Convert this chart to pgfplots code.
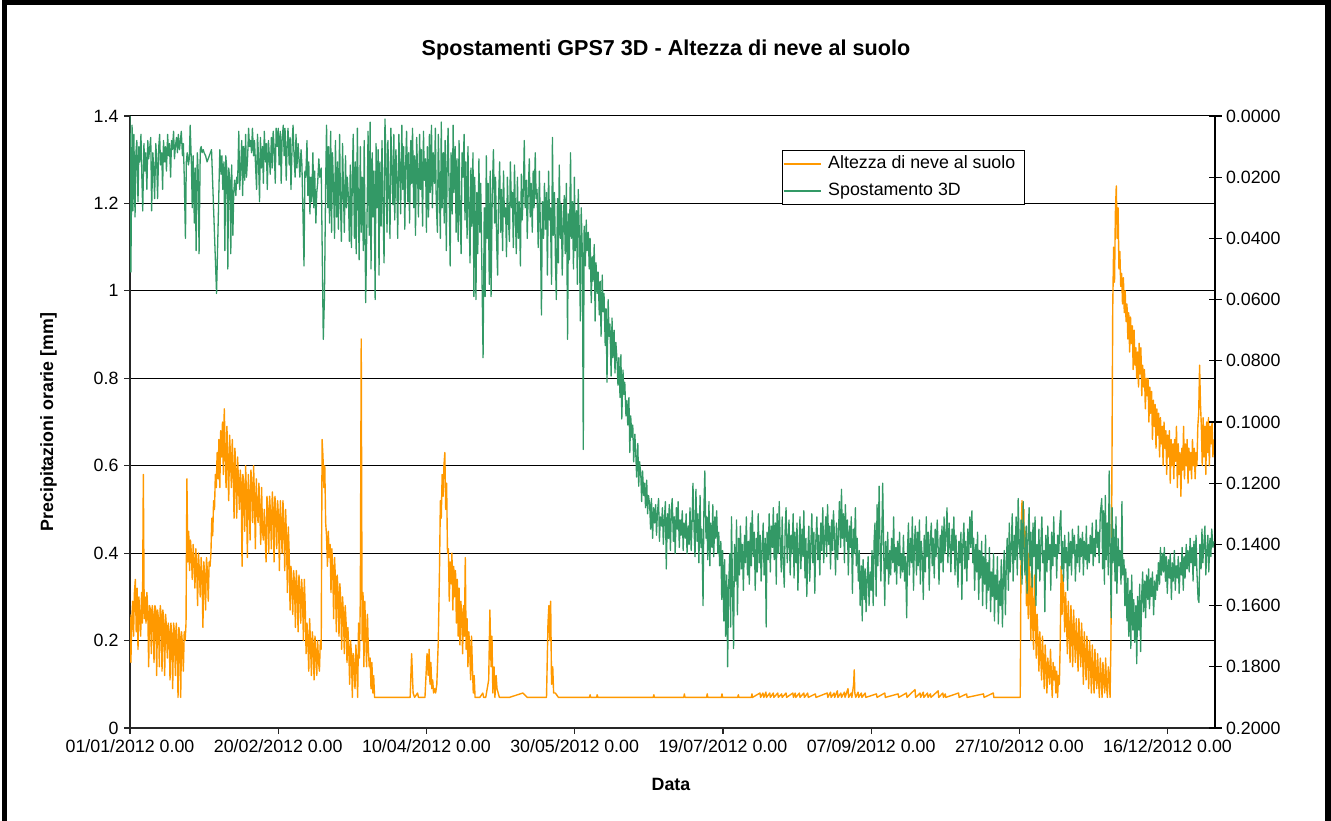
\documentclass[border=0pt]{standalone}
\usepackage{fontspec}
\setmainfont{Liberation Sans}
\usepackage{pgfplots}
\pgfplotsset{compat=1.18}
\definecolor{snoworange}{HTML}{FF9900}
\definecolor{gpsgreen}{HTML}{339966}
\newcommand\tickfont{\fontsize{17.8}{21}\selectfont}
\newcommand\labfont{\fontsize{17.8}{21}\selectfont\bfseries}
\newcommand\titfont{\fontsize{21.6}{25}\selectfont\bfseries}
\begin{document}
\begin{tikzpicture}
\useasboundingbox (0pt,0pt) rectangle (1331pt,821pt);
\begin{axis}[
  scale only axis, width=1085pt, height=612pt,
  at={(130pt,93pt)}, anchor=south west,
  xmin=0, xmax=366, ymin=0, ymax=1.4,
  axis x line*=bottom, axis y line*=left,
  axis line style={-, black!85, line width=1.5pt},
  xtick={0,50,100,150,200,250,300,350},
  xticklabels={01/01/2012 0.00,20/02/2012 0.00,10/04/2012 0.00,30/05/2012 0.00,19/07/2012 0.00,07/09/2012 0.00,27/10/2012 0.00,16/12/2012 0.00},
  ytick={0,0.2,0.4,0.6,0.8,1,1.2,1.4},
  tick align=outside, major tick length=6pt,
  tick style={black!85, line width=1.2pt},
  ymajorgrids, major grid style={black, line width=1pt},
  ticklabel style={font=\tickfont},
  /pgf/number format/assume math mode=true,
  xticklabel style={yshift=-2pt},
  yticklabel style={xshift=-2pt},
]
\addplot[snoworange, line width=1.4pt, line join=round] coordinates {
(0.0,0.26)(0.3,0.15)(0.6,0.25)(0.9,0.29)(1.2,0.21)(1.5,0.31)(1.8,0.34)(2.1,0.22)(2.4,0.32)(2.7,0.18)
(3.0,0.30)(3.3,0.26)(3.6,0.21)(3.9,0.31)(4.2,0.24)(4.5,0.58)(4.8,0.25)(5.1,0.30)(5.4,0.24)(5.7,0.31)
(6.0,0.27)(6.3,0.14)(6.6,0.28)(6.9,0.27)(7.2,0.17)(7.5,0.28)(7.8,0.26)(8.1,0.15)(8.4,0.28)(8.7,0.27)
(9.0,0.12)(9.3,0.27)(9.6,0.25)(9.9,0.14)(10.2,0.28)(10.5,0.26)(10.8,0.13)(11.1,0.27)(11.4,0.24)(11.7,0.12)
(12.0,0.26)(12.3,0.23)(12.6,0.16)(12.9,0.24)(13.2,0.22)(13.5,0.11)(13.8,0.24)(14.1,0.21)(14.4,0.09)(14.7,0.24)
(15.0,0.22)(15.3,0.12)(15.6,0.24)(15.9,0.20)(16.2,0.07)(16.5,0.23)(16.8,0.21)(17.1,0.07)(17.4,0.22)(17.7,0.19)
(18.0,0.13)(18.3,0.22)(18.6,0.20)(18.9,0.24)(19.2,0.57)(19.5,0.38)(19.8,0.45)(20.1,0.36)(20.4,0.43)(20.7,0.40)
(21.0,0.34)(21.3,0.42)(21.6,0.38)(21.9,0.32)(22.2,0.41)(22.5,0.37)(22.8,0.28)(23.1,0.40)(23.4,0.36)(23.7,0.30)
(24.0,0.39)(24.3,0.35)(24.6,0.23)(24.9,0.38)(25.2,0.35)(25.5,0.27)(25.8,0.39)(26.1,0.36)(26.4,0.29)(26.7,0.38)
(27.0,0.37)(27.3,0.40)(27.6,0.48)(27.9,0.44)(28.2,0.52)(28.5,0.50)(28.8,0.58)(29.1,0.55)(29.4,0.63)(29.7,0.57)
(30.0,0.66)(30.3,0.55)(30.6,0.68)(30.9,0.62)(31.2,0.70)(31.5,0.58)(31.8,0.73)(32.1,0.64)(32.4,0.55)(32.7,0.69)
(33.0,0.60)(33.3,0.52)(33.6,0.67)(33.9,0.62)(34.2,0.55)(34.5,0.66)(34.8,0.60)(35.1,0.48)(35.4,0.64)(35.7,0.58)
(36.0,0.48)(36.3,0.62)(36.6,0.56)(36.9,0.50)(37.2,0.59)(37.5,0.56)(37.8,0.37)(38.1,0.58)(38.4,0.55)(38.7,0.45)
(39.0,0.60)(39.3,0.53)(39.6,0.39)(39.9,0.58)(40.2,0.54)(40.5,0.43)(40.8,0.59)(41.1,0.55)(41.4,0.47)(41.7,0.60)
(42.0,0.52)(42.3,0.41)(42.6,0.57)(42.9,0.50)(43.2,0.47)(43.5,0.56)(43.8,0.49)(44.1,0.42)(44.4,0.55)(44.7,0.45)
(45.0,0.43)(45.3,0.50)(45.6,0.44)(45.9,0.38)(46.2,0.53)(46.5,0.50)(46.8,0.40)(47.1,0.53)(47.4,0.49)(47.7,0.41)
(48.0,0.54)(48.3,0.50)(48.6,0.38)(48.9,0.53)(49.2,0.49)(49.5,0.41)(49.8,0.52)(50.1,0.48)(50.4,0.36)(50.7,0.52)
(51.0,0.47)(51.3,0.40)(51.6,0.52)(51.9,0.46)(52.2,0.36)(52.5,0.50)(52.8,0.43)(53.1,0.31)(53.4,0.46)(53.7,0.40)
(54.0,0.27)(54.3,0.37)(54.6,0.33)(54.9,0.26)(55.2,0.36)(55.5,0.33)(55.8,0.23)(56.1,0.36)(56.4,0.32)(56.7,0.22)
(57.0,0.35)(57.3,0.31)(57.6,0.24)(57.9,0.34)(58.2,0.30)(58.5,0.20)(58.8,0.34)(59.1,0.28)(59.4,0.17)(59.7,0.24)
(60.0,0.20)(60.3,0.13)(60.6,0.25)(60.9,0.19)(61.2,0.12)(61.5,0.22)(61.8,0.19)(62.1,0.11)(62.4,0.21)(62.7,0.17)
(63.0,0.12)(63.3,0.20)(63.6,0.15)(63.9,0.13)(64.2,0.20)(64.5,0.18)(64.8,0.66)(65.1,0.62)(65.4,0.55)(65.7,0.60)
(66.0,0.47)(66.3,0.44)(66.6,0.37)(66.9,0.45)(67.2,0.39)(67.5,0.42)(67.8,0.31)(68.1,0.41)(68.4,0.36)(68.7,0.25)
(69.0,0.39)(69.3,0.34)(69.6,0.22)(69.9,0.35)(70.2,0.31)(70.5,0.21)(70.8,0.33)(71.1,0.29)(71.4,0.18)(71.7,0.30)
(72.0,0.26)(72.3,0.17)(72.6,0.28)(72.9,0.24)(73.2,0.15)(73.5,0.23)(73.8,0.18)(74.1,0.10)(74.4,0.20)(74.7,0.17)
(75.0,0.07)(75.3,0.17)(75.6,0.14)(75.9,0.09)(76.2,0.19)(76.5,0.14)(76.8,0.07)(77.1,0.24)(77.4,0.16)(77.7,0.30)
(78.0,0.89)(78.3,0.20)(78.6,0.31)(78.9,0.14)(79.2,0.29)(79.5,0.22)(79.8,0.14)(80.1,0.26)(80.4,0.18)(80.7,0.14)
(81.0,0.16)(81.3,0.09)(81.6,0.15)(81.9,0.08)(82.2,0.12)(82.5,0.07)(88.0,0.07)(94.5,0.07)(95.0,0.17)(95.5,0.08)
(96.0,0.07)(97.0,0.08)(97.3,0.07)(99.5,0.07)(100.2,0.17)(100.6,0.12)(100.9,0.18)(101.2,0.10)(101.5,0.15)(101.8,0.09)
(102.1,0.11)(102.4,0.08)(102.8,0.09)(103.1,0.08)(103.5,0.10)(104.0,0.20)(104.4,0.36)(104.7,0.52)(105.0,0.48)(105.3,0.58)
(105.6,0.53)(105.9,0.60)(106.2,0.63)(106.5,0.50)(106.8,0.56)(107.1,0.40)(107.4,0.41)(107.7,0.29)(108.0,0.38)(108.3,0.33)
(108.6,0.40)(108.9,0.27)(109.2,0.37)(109.5,0.30)(109.8,0.36)(110.1,0.24)(110.4,0.34)(110.7,0.21)(111.0,0.32)(111.3,0.19)
(111.6,0.29)(111.9,0.26)(112.2,0.17)(112.5,0.28)(112.8,0.21)(113.1,0.39)(113.4,0.18)(113.7,0.25)(114.0,0.14)(114.3,0.22)
(114.6,0.18)(114.9,0.11)(115.2,0.21)(115.5,0.14)(115.8,0.08)(116.1,0.12)(116.4,0.07)(118.0,0.07)(119.0,0.08)(119.3,0.07)
(120.0,0.07)(121.0,0.11)(121.4,0.27)(121.8,0.14)(122.1,0.21)(122.4,0.08)(122.8,0.14)(123.1,0.07)(123.5,0.12)(123.8,0.09)
(124.2,0.08)(124.6,0.07)(128.0,0.07)(132.5,0.08)(134.0,0.07)(140.5,0.07)(141.0,0.24)(141.3,0.28)(141.6,0.20)(141.9,0.29)
(142.2,0.10)(142.6,0.14)(142.9,0.08)(143.5,0.08)(144.5,0.07)(150.0,0.07)(155.0,0.07)(155.2,0.076)(155.4,0.07)(157.4,0.07)
(157.6,0.076)(157.8,0.07)(165.0,0.07)(176.5,0.07)(176.7,0.076)(176.9,0.07)(186.8,0.07)(187.0,0.078)(187.2,0.07)(194.5,0.07)
(194.7,0.078)(194.9,0.07)(199.5,0.07)(199.7,0.078)(199.9,0.07)(205.0,0.07)(205.2,0.076)(205.4,0.07)(209.6,0.07)(209.8,0.078)
(210.0,0.07)(212.5,0.08)(212.7,0.07)(213.5,0.08)(213.8,0.07)(214.5,0.082)(214.7,0.07)(215.8,0.08)(216.0,0.07)(217.0,0.08)
(217.2,0.07)(218.5,0.08)(218.7,0.07)(219.8,0.078)(220.0,0.07)(221.3,0.08)(221.5,0.07)(223.6,0.08)(223.8,0.07)(224.4,0.08)
(224.6,0.07)(225.8,0.08)(226.0,0.07)(227.3,0.08)(227.5,0.07)(228.6,0.08)(228.8,0.07)(231.2,0.078)(231.4,0.07)(235.2,0.08)
(235.4,0.07)(236.3,0.082)(236.5,0.07)(237.5,0.08)(237.7,0.07)(238.6,0.085)(238.8,0.07)(239.8,0.08)(240.0,0.07)(241.0,0.082)
(241.2,0.07)(242.2,0.09)(242.4,0.07)(243.3,0.08)(243.5,0.07)(244.1,0.10)(244.3,0.133)(244.5,0.08)(244.8,0.07)(245.6,0.082)
(245.8,0.07)(246.7,0.08)(246.9,0.07)(248.0,0.08)(248.2,0.07)(251.8,0.078)(252.0,0.07)(254.6,0.08)(254.8,0.07)(259.1,0.078)
(259.3,0.07)(261.9,0.08)(262.1,0.07)(264.8,0.088)(265.0,0.07)(266.5,0.08)(266.7,0.07)(267.6,0.082)(267.8,0.07)(269.0,0.08)
(269.2,0.07)(270.0,0.078)(270.2,0.07)(272.6,0.085)(272.8,0.07)(274.2,0.08)(274.4,0.07)(275.0,0.078)(275.2,0.07)(279.5,0.08)
(279.7,0.07)(282.2,0.078)(282.4,0.07)(287.9,0.078)(288.1,0.07)(291.2,0.08)(291.4,0.07)(300.3,0.07)(300.6,0.45)(300.9,0.52)
(301.2,0.43)(301.5,0.50)(301.8,0.36)(302.1,0.45)(302.4,0.28)(302.7,0.42)(303.0,0.25)(303.3,0.40)(303.6,0.30)(303.9,0.20)
(304.2,0.38)(304.5,0.24)(304.8,0.18)(305.1,0.35)(305.4,0.26)(305.7,0.16)(306.0,0.26)(306.3,0.20)(306.6,0.13)(306.9,0.22)
(307.2,0.17)(307.5,0.11)(307.8,0.21)(308.1,0.15)(308.4,0.09)(308.7,0.19)(309.0,0.14)(309.3,0.08)(309.6,0.16)(309.9,0.13)
(310.2,0.10)(310.5,0.18)(310.8,0.12)(311.1,0.07)(311.4,0.15)(311.7,0.11)(312.0,0.14)(312.3,0.08)(312.6,0.13)(312.9,0.07)
(313.2,0.12)(313.5,0.10)(313.8,0.20)(314.1,0.37)(314.4,0.26)(314.7,0.35)(315.0,0.30)(315.3,0.22)(315.6,0.31)(315.9,0.25)
(316.2,0.17)(316.5,0.29)(316.8,0.23)(317.1,0.15)(317.4,0.28)(317.7,0.22)(318.0,0.14)(318.3,0.27)(318.6,0.21)(318.9,0.15)
(319.2,0.25)(319.5,0.20)(319.8,0.13)(320.1,0.25)(320.4,0.19)(320.7,0.14)(321.0,0.24)(321.3,0.18)(321.6,0.10)(321.9,0.22)
(322.2,0.17)(322.5,0.11)(322.8,0.21)(323.1,0.16)(323.4,0.09)(323.7,0.20)(324.0,0.15)(324.3,0.08)(324.6,0.19)(324.9,0.13)
(325.2,0.08)(325.5,0.18)(325.8,0.12)(326.1,0.09)(326.4,0.17)(326.7,0.11)(327.0,0.07)(327.3,0.16)(327.6,0.12)(327.9,0.07)
(328.2,0.15)(328.5,0.11)(328.8,0.08)(329.1,0.16)(329.4,0.10)(329.7,0.07)(330.0,0.14)(330.3,0.12)(330.6,0.07)(330.9,0.20)
(331.2,0.55)(331.5,0.96)(331.8,1.10)(332.1,1.02)(332.4,1.18)(332.7,1.24)(333.0,1.12)(333.3,1.19)(333.6,1.05)(333.9,1.09)
(334.2,1.01)(334.5,1.04)(334.8,0.97)(335.1,1.03)(335.4,0.95)(335.7,1.00)(336.0,0.93)(336.3,0.97)(336.6,0.89)(336.9,0.95)
(337.2,0.86)(337.5,0.94)(337.8,0.88)(338.1,0.92)(338.4,0.82)(338.7,0.91)(339.0,0.83)(339.3,0.87)(339.6,0.80)(339.9,0.86)
(340.2,0.78)(340.4,0.88)(340.7,0.81)(341.0,0.87)(341.3,0.76)(341.6,0.83)(341.9,0.78)(342.2,0.82)(342.5,0.73)(342.8,0.80)
(343.1,0.76)(343.4,0.80)(343.7,0.70)(344.0,0.78)(344.3,0.72)(344.6,0.77)(344.9,0.66)(345.2,0.75)(345.5,0.69)(345.8,0.74)
(346.1,0.64)(346.4,0.73)(346.7,0.67)(347.0,0.72)(347.3,0.62)(347.6,0.71)(347.9,0.65)(348.2,0.69)(348.5,0.60)(348.8,0.70)
(349.1,0.64)(349.4,0.68)(349.7,0.58)(350.0,0.67)(350.3,0.62)(350.6,0.68)(350.9,0.56)(351.2,0.66)(351.5,0.60)(351.8,0.65)
(352.1,0.57)(352.4,0.66)(352.7,0.61)(353.0,0.69)(353.3,0.55)(353.6,0.65)(353.9,0.58)(354.2,0.63)(354.5,0.53)(354.8,0.64)
(355.1,0.59)(355.4,0.69)(355.7,0.57)(356.0,0.65)(356.3,0.60)(356.6,0.66)(356.9,0.56)(357.2,0.64)(357.5,0.59)(357.8,0.63)
(358.1,0.57)(358.4,0.66)(358.7,0.60)(359.0,0.64)(359.3,0.57)(359.6,0.63)(359.9,0.60)(360.2,0.69)(360.5,0.72)(360.8,0.83)
(361.1,0.74)(361.4,0.69)(361.7,0.60)(362.0,0.71)(362.3,0.62)(362.6,0.69)(362.9,0.58)(363.2,0.70)(363.5,0.63)(363.8,0.71)
(364.1,0.60)(364.4,0.69)(364.7,0.65)(365.0,0.70)(365.3,0.62)(365.6,0.66)
};
\end{axis}
\begin{axis}[
  scale only axis, width=1085pt, height=612pt,
  at={(130pt,93pt)}, anchor=south west,
  xmin=0, xmax=366, ymin=0, ymax=0.2, y dir=reverse,
  axis x line=none, axis y line*=right,
  axis line style={-, black, line width=1.5pt},
  ytick={0,0.02,0.04,0.06,0.08,0.1,0.12,0.14,0.16,0.18,0.2},
  tick align=center, major tick length=13pt,
  tick style={black, line width=1.2pt},
  ticklabel style={font=\tickfont},
  /pgf/number format/assume math mode=true,
  yticklabel style={/pgf/number format/fixed, /pgf/number format/fixed zerofill, /pgf/number format/precision=4, xshift=1pt},
  legend cell align=left,
  legend style={at={(0.601,0.944)}, anchor=north west, draw=black, line width=1pt, fill=white,
    inner sep=0pt, row sep=0pt, column sep=0pt, font=\tickfont,
    nodes={inner xsep=3pt, inner ysep=5pt, text height=13pt, text depth=4pt}},
  legend image code/.code={\draw[#1, line width=2pt] (1pt,0pt) -- (38pt,0pt); \path (42pt,0pt);},
]
\addlegendimage{snoworange}
\addlegendentry{Altezza di neve al suolo\hspace*{6pt}\mbox{}}
\addplot[gpsgreen, line width=1.3pt, line join=round] coordinates {
(0.0,0.000)(0.3,0.051)(0.7,0.003)(1.0,0.031)(1.3,0.006)(1.7,0.033)(2.0,0.012)(2.3,0.008)(2.7,0.028)(3.0,0.010)
(3.3,0.015)(3.7,0.006)(4.0,0.020)(4.3,0.031)(4.7,0.009)(5.0,0.018)(5.3,0.012)(5.7,0.024)(6.0,0.008)(6.3,0.014)
(6.7,0.010)(7.0,0.007)(7.3,0.031)(7.7,0.012)(8.0,0.017)(8.3,0.027)(8.7,0.009)(9.0,0.014)(9.3,0.027)(9.7,0.010)
(10.0,0.006)(10.3,0.016)(10.7,0.012)(11.0,0.024)(11.3,0.008)(11.7,0.015)(12.0,0.010)(12.3,0.018)(12.7,0.006)(13.0,0.013)
(13.3,0.009)(13.7,0.020)(14.0,0.008)(14.3,0.011)(14.7,0.005)(15.0,0.014)(15.3,0.010)(15.7,0.007)(16.0,0.012)(16.3,0.006)
(16.7,0.011)(17.0,0.008)(17.3,0.005)(17.7,0.013)(18.0,0.009)(18.3,0.020)(18.7,0.040)(19.0,0.015)(19.3,0.012)(19.7,0.016)
(20.0,0.014)(20.3,0.003)(20.7,0.015)(21.0,0.030)(21.3,0.013)(21.7,0.035)(22.0,0.017)(22.3,0.044)(22.7,0.012)(23.0,0.018)
(23.3,0.045)(23.7,0.011)(24.0,0.010)(24.3,0.012)(24.7,0.011)(25.0,0.012)(25.5,0.013)(26.0,0.015)(27.5,0.011)(29.2,0.058)
(30.3,0.011)(30.7,0.019)(31.0,0.013)(31.3,0.024)(31.7,0.015)(32.0,0.044)(32.3,0.013)(32.7,0.018)(33.0,0.050)(33.3,0.017)
(33.7,0.021)(34.0,0.045)(34.3,0.016)(34.7,0.039)(35.0,0.025)(35.3,0.021)(35.7,0.026)(36.0,0.020)(36.3,0.022)(36.7,0.005)
(37.0,0.024)(37.3,0.018)(37.7,0.008)(38.0,0.026)(38.3,0.010)(38.7,0.021)(39.0,0.006)(39.3,0.020)(39.7,0.013)(40.0,0.004)
(40.3,0.010)(40.7,0.008)(41.0,0.012)(41.3,0.004)(41.7,0.013)(42.0,0.008)(42.3,0.015)(42.7,0.024)(43.0,0.006)(43.3,0.012)
(43.7,0.028)(44.0,0.007)(44.3,0.017)(44.7,0.010)(45.0,0.022)(45.3,0.005)(45.7,0.015)(46.0,0.009)(46.3,0.024)(46.7,0.008)
(47.0,0.013)(47.3,0.019)(47.7,0.007)(48.0,0.017)(48.3,0.005)(48.7,0.012)(49.0,0.022)(49.3,0.004)(49.7,0.010)(50.0,0.004)
(50.3,0.016)(50.7,0.005)(51.0,0.022)(51.3,0.008)(51.7,0.003)(52.0,0.013)(52.3,0.004)(52.7,0.021)(53.0,0.010)(53.3,0.004)
(53.7,0.016)(54.0,0.007)(54.3,0.024)(54.7,0.009)(55.0,0.003)(55.3,0.012)(55.7,0.020)(56.0,0.006)(56.3,0.017)(56.7,0.009)
(57.0,0.014)(57.3,0.020)(57.7,0.011)(58.0,0.016)(58.7,0.049)(59.0,0.018)(59.3,0.020)(59.7,0.008)(60.0,0.026)(60.3,0.015)
(60.7,0.032)(61.0,0.020)(61.3,0.028)(61.7,0.012)(62.0,0.030)(62.3,0.018)(62.7,0.035)(63.0,0.025)(63.3,0.022)(63.7,0.014)
(64.0,0.020)(64.5,0.017)(65.2,0.073)(65.6,0.059)(66.0,0.022)(66.3,0.003)(66.7,0.030)(67.0,0.010)(67.3,0.035)(67.7,0.005)
(68.0,0.038)(68.3,0.012)(68.7,0.025)(69.0,0.040)(69.3,0.008)(69.7,0.033)(70.0,0.015)(70.3,0.037)(70.7,0.006)(71.0,0.028)
(71.3,0.041)(71.7,0.009)(72.0,0.024)(72.3,0.038)(72.7,0.013)(73.0,0.030)(73.3,0.020)(73.7,0.027)(74.0,0.041)(74.3,0.016)
(74.7,0.043)(75.0,0.020)(75.3,0.006)(75.7,0.040)(76.0,0.015)(76.3,0.045)(76.7,0.004)(77.0,0.028)(77.3,0.047)(77.7,0.010)
(78.0,0.038)(78.3,0.020)(78.7,0.044)(79.0,0.008)(79.5,0.061)(80.0,0.030)(80.3,0.005)(80.7,0.039)(81.0,0.002)(81.3,0.050)
(81.7,0.012)(82.0,0.033)(82.3,0.018)(82.7,0.060)(83.0,0.009)(83.3,0.030)(83.7,0.011)(84.0,0.052)(84.3,0.015)(84.7,0.036)
(85.0,0.008)(85.3,0.027)(85.7,0.048)(86.0,0.001)(86.3,0.012)(86.7,0.038)(87.0,0.008)(87.3,0.022)(87.7,0.040)(88.0,0.004)
(88.3,0.015)(88.7,0.029)(89.0,0.006)(89.3,0.034)(89.7,0.011)(90.0,0.020)(90.3,0.040)(90.7,0.006)(91.0,0.017)(91.3,0.032)
(91.7,0.003)(92.0,0.024)(92.3,0.010)(92.7,0.037)(93.0,0.015)(93.3,0.005)(93.7,0.028)(94.0,0.012)(94.3,0.035)(94.7,0.008)
(95.0,0.022)(95.3,0.004)(95.7,0.030)(96.0,0.013)(96.3,0.039)(96.7,0.007)(97.0,0.018)(97.3,0.033)(97.7,0.006)(98.0,0.024)
(98.3,0.011)(98.7,0.036)(99.0,0.005)(99.3,0.021)(99.7,0.014)(100.0,0.038)(100.3,0.010)(100.7,0.033)(101.0,0.006)(101.3,0.025)
(101.7,0.003)(102.0,0.030)(102.3,0.012)(102.7,0.022)(103.0,0.004)(103.3,0.028)(103.7,0.038)(104.0,0.006)(104.3,0.020)(104.7,0.040)
(105.0,0.002)(105.3,0.030)(105.7,0.012)(106.0,0.035)(106.3,0.008)(106.7,0.044)(107.0,0.015)(107.3,0.004)(107.7,0.027)(108.0,0.049)
(108.3,0.012)(108.7,0.032)(109.0,0.003)(109.3,0.025)(109.7,0.010)(110.0,0.038)(110.3,0.014)(110.7,0.041)(111.0,0.008)(111.3,0.030)
(111.7,0.045)(112.0,0.012)(112.3,0.020)(112.7,0.006)(113.0,0.034)(113.3,0.015)(113.7,0.040)(114.0,0.010)(114.3,0.028)(114.7,0.048)
(115.0,0.017)(115.3,0.036)(115.7,0.012)(116.0,0.059)(116.3,0.020)(116.7,0.060)(117.0,0.025)(117.3,0.045)(117.7,0.014)(118.0,0.038)
(118.3,0.022)(118.7,0.050)(119.1,0.079)(119.5,0.030)(119.8,0.059)(120.2,0.013)(120.5,0.040)(120.8,0.022)(121.2,0.055)(121.5,0.018)
(121.8,0.059)(122.2,0.025)(122.6,0.011)(123.0,0.035)(123.3,0.020)(123.7,0.042)(124.0,0.052)(124.3,0.028)(124.7,0.015)(125.0,0.038)
(125.3,0.024)(125.7,0.044)(126.0,0.018)(126.3,0.033)(126.7,0.030)(127.0,0.046)(127.3,0.020)(127.7,0.035)(128.0,0.041)(128.3,0.015)
(128.7,0.030)(129.0,0.025)(129.3,0.043)(129.7,0.016)(130.0,0.032)(130.3,0.045)(130.7,0.020)(131.0,0.040)(131.3,0.028)(131.7,0.049)
(132.0,0.019)(132.3,0.034)(132.7,0.024)(133.0,0.008)(133.3,0.030)(133.7,0.021)(134.0,0.040)(134.3,0.026)(134.7,0.014)(135.0,0.033)
(135.3,0.022)(135.7,0.038)(136.0,0.018)(136.3,0.030)(136.7,0.012)(137.0,0.027)(137.3,0.024)(137.7,0.043)(138.1,0.018)(138.4,0.035)
(138.8,0.065)(139.1,0.028)(139.5,0.040)(139.8,0.022)(140.2,0.037)(140.5,0.025)(140.8,0.052)(141.2,0.018)(141.5,0.034)(141.8,0.030)
(142.2,0.055)(142.5,0.007)(142.8,0.039)(143.2,0.025)(143.5,0.046)(143.8,0.060)(144.2,0.027)(144.5,0.048)(144.8,0.016)(145.2,0.040)
(145.5,0.029)(145.8,0.052)(146.2,0.033)(146.5,0.026)(146.8,0.045)(147.2,0.022)(147.6,0.073)(147.9,0.032)(148.2,0.047)(148.6,0.012)
(148.9,0.040)(149.2,0.028)(149.6,0.050)(149.9,0.020)(150.2,0.044)(150.6,0.031)(150.9,0.055)(151.2,0.024)(151.6,0.040)(151.9,0.067)
(152.2,0.030)(152.6,0.045)(152.9,0.109)(153.2,0.036)(153.6,0.049)(153.9,0.034)(154.2,0.044)(154.6,0.038)(154.9,0.050)(155.2,0.040)
(155.6,0.061)(155.9,0.046)(156.2,0.054)(156.6,0.042)(156.9,0.067)(157.2,0.048)(157.6,0.058)(157.9,0.051)(158.3,0.065)(158.6,0.054)
(158.9,0.072)(159.3,0.052)(159.6,0.064)(159.9,0.058)(160.3,0.075)(160.6,0.063)(160.9,0.087)(161.3,0.060)(161.6,0.072)(161.9,0.068)
(162.3,0.085)(162.6,0.066)(162.9,0.079)(163.3,0.070)(163.6,0.084)(163.9,0.074)(164.3,0.080)(164.6,0.088)(164.9,0.079)(165.3,0.092)
(165.6,0.078)(165.9,0.099)(166.3,0.083)(166.6,0.091)(166.9,0.087)(167.3,0.098)(167.6,0.093)(167.9,0.101)(168.3,0.092)(168.6,0.110)
(168.9,0.098)(169.3,0.105)(169.6,0.101)(169.9,0.113)(170.3,0.104)(170.6,0.110)(170.9,0.118)(171.3,0.107)(171.6,0.121)(171.9,0.113)
(172.3,0.117)(172.6,0.126)(172.9,0.116)(173.3,0.124)(173.6,0.120)(173.9,0.128)(174.3,0.119)(174.6,0.130)(174.9,0.124)(175.3,0.127)
(175.6,0.135)(175.9,0.125)(176.3,0.138)(176.6,0.128)(176.9,0.133)(177.3,0.127)(177.6,0.137)(177.9,0.130)(178.3,0.125)(178.6,0.139)
(178.9,0.131)(179.3,0.134)(179.6,0.128)(179.9,0.140)(180.3,0.131)(180.6,0.126)(180.9,0.148)(181.3,0.130)(181.6,0.138)(181.9,0.127)
(182.3,0.142)(182.6,0.129)(182.9,0.125)(183.3,0.139)(183.6,0.131)(183.9,0.143)(184.3,0.128)(184.6,0.135)(184.9,0.126)(185.3,0.141)
(185.6,0.132)(185.9,0.137)(186.3,0.129)(186.6,0.142)(186.9,0.133)(187.3,0.138)(187.6,0.130)(187.9,0.143)(188.3,0.134)(188.6,0.140)
(188.9,0.128)(189.3,0.142)(189.6,0.133)(189.9,0.120)(190.3,0.136)(190.6,0.144)(190.9,0.122)(191.3,0.139)(191.6,0.130)(191.9,0.146)
(192.3,0.124)(192.6,0.141)(192.9,0.135)(193.3,0.160)(193.6,0.128)(193.9,0.116)(194.3,0.138)(194.6,0.131)(194.9,0.145)(195.3,0.126)
(195.6,0.147)(195.9,0.133)(196.3,0.141)(196.6,0.127)(196.9,0.144)(197.3,0.131)(197.6,0.138)(197.9,0.129)(198.3,0.143)(198.6,0.136)
(198.9,0.147)(199.3,0.139)(199.6,0.158)(199.9,0.142)(200.3,0.165)(200.6,0.145)(200.9,0.170)(201.3,0.150)(201.6,0.180)(201.9,0.155)
(202.3,0.143)(202.6,0.167)(202.9,0.131)(203.3,0.158)(203.6,0.174)(203.9,0.140)(204.3,0.152)(204.6,0.132)(204.9,0.163)(205.3,0.138)
(205.6,0.150)(205.9,0.134)(206.3,0.148)(206.6,0.140)(206.9,0.155)(207.3,0.137)(207.6,0.146)(207.9,0.131)(208.3,0.150)(208.6,0.139)
(208.9,0.153)(209.3,0.133)(209.6,0.147)(209.9,0.129)(210.3,0.144)(210.6,0.136)(210.9,0.155)(211.3,0.138)(211.6,0.149)(211.9,0.130)
(212.3,0.146)(212.6,0.137)(212.9,0.152)(213.3,0.140)(213.6,0.133)(213.9,0.150)(214.3,0.138)(214.6,0.167)(214.9,0.136)(215.3,0.145)
(215.6,0.130)(216.0,0.149)(216.3,0.134)(216.7,0.141)(217.0,0.128)(217.3,0.145)(217.7,0.133)(218.0,0.153)(218.3,0.130)(218.7,0.143)
(219.0,0.126)(219.3,0.138)(219.7,0.149)(220.0,0.131)(220.3,0.144)(220.7,0.154)(221.0,0.135)(221.3,0.128)(221.7,0.146)(222.0,0.139)
(222.3,0.132)(222.7,0.150)(223.0,0.137)(223.3,0.143)(223.7,0.130)(224.0,0.151)(224.3,0.136)(224.7,0.146)(225.0,0.133)(225.3,0.155)
(225.7,0.140)(226.0,0.131)(226.3,0.148)(226.7,0.135)(227.0,0.144)(227.3,0.129)(227.7,0.151)(228.0,0.138)(228.3,0.157)(228.7,0.141)
(229.0,0.134)(229.3,0.152)(229.7,0.139)(230.0,0.130)(230.3,0.146)(230.7,0.136)(231.0,0.156)(231.3,0.140)(231.7,0.131)(232.0,0.145)
(232.3,0.137)(232.7,0.150)(233.0,0.133)(233.3,0.142)(233.7,0.128)(234.0,0.146)(234.3,0.139)(234.7,0.131)(235.0,0.144)(235.3,0.127)
(235.7,0.140)(236.0,0.134)(236.3,0.148)(236.7,0.132)(237.0,0.142)(237.3,0.129)(237.7,0.139)(238.0,0.150)(238.3,0.133)(238.7,0.145)
(239.0,0.136)(239.3,0.126)(239.7,0.141)(240.0,0.122)(240.3,0.138)(240.7,0.130)(241.0,0.146)(241.3,0.127)(241.7,0.139)(242.0,0.132)
(242.3,0.150)(242.7,0.134)(243.0,0.141)(243.3,0.131)(243.7,0.156)(244.0,0.135)(244.3,0.143)(244.7,0.128)(245.0,0.147)(245.3,0.138)
(245.7,0.152)(246.0,0.142)(246.3,0.160)(246.7,0.147)(247.0,0.165)(247.3,0.145)(247.7,0.158)(248.0,0.148)(248.3,0.162)(248.7,0.150)
(249.0,0.144)(249.3,0.160)(249.7,0.149)(250.0,0.155)(250.3,0.142)(250.7,0.160)(251.0,0.139)(251.3,0.133)(251.7,0.157)(252.0,0.127)
(252.3,0.147)(252.7,0.121)(253.0,0.141)(253.3,0.152)(253.7,0.132)(253.9,0.120)(254.3,0.145)(254.6,0.160)(254.9,0.139)(255.3,0.148)
(255.6,0.136)(255.9,0.153)(256.3,0.142)(256.6,0.150)(256.9,0.138)(257.3,0.146)(257.6,0.131)(257.9,0.149)(258.3,0.141)(258.6,0.153)
(258.9,0.139)(259.3,0.147)(259.6,0.136)(259.9,0.151)(260.3,0.143)(260.6,0.149)(260.9,0.137)(261.3,0.152)(261.6,0.144)(262.0,0.164)
(262.3,0.141)(262.6,0.133)(262.9,0.150)(263.3,0.138)(263.6,0.146)(263.9,0.131)(264.3,0.155)(264.6,0.140)(264.9,0.134)(265.3,0.150)
(265.6,0.136)(265.9,0.147)(266.3,0.132)(266.6,0.153)(266.9,0.139)(267.3,0.145)(267.6,0.158)(267.9,0.137)(268.3,0.149)(268.6,0.131)
(268.9,0.144)(269.3,0.136)(269.6,0.155)(269.9,0.140)(270.3,0.133)(270.6,0.147)(270.9,0.138)(271.3,0.151)(271.6,0.135)(271.9,0.144)
(272.3,0.132)(272.6,0.141)(272.9,0.153)(273.3,0.137)(273.6,0.146)(273.9,0.134)(274.3,0.149)(274.6,0.131)(274.9,0.143)(275.3,0.136)
(275.6,0.128)(275.9,0.146)(276.3,0.133)(276.6,0.140)(276.9,0.149)(277.3,0.135)(277.6,0.142)(277.9,0.131)(278.3,0.150)(278.6,0.137)
(278.9,0.144)(279.3,0.154)(279.6,0.139)(279.9,0.146)(280.3,0.136)(280.6,0.158)(280.9,0.141)(281.3,0.133)(281.6,0.148)(281.9,0.139)
(282.3,0.152)(282.6,0.135)(282.9,0.145)(283.3,0.131)(283.6,0.141)(284.0,0.129)(284.3,0.146)(284.6,0.138)(284.9,0.155)(285.3,0.140)
(285.6,0.149)(285.9,0.136)(286.3,0.158)(286.6,0.142)(286.9,0.151)(287.3,0.139)(287.6,0.160)(287.9,0.144)(288.3,0.153)(288.6,0.137)
(288.9,0.161)(289.3,0.146)(289.6,0.155)(289.9,0.141)(290.3,0.162)(290.6,0.149)(290.9,0.157)(291.3,0.143)(291.6,0.165)(291.9,0.150)
(292.3,0.158)(292.6,0.144)(292.9,0.166)(293.3,0.152)(293.6,0.160)(293.9,0.145)(294.3,0.167)(294.6,0.150)(294.9,0.142)(295.3,0.163)
(295.6,0.146)(295.9,0.138)(296.3,0.155)(296.6,0.133)(296.9,0.149)(297.3,0.140)(297.6,0.130)(297.9,0.152)(298.3,0.137)(298.6,0.145)
(298.9,0.131)(299.3,0.150)(299.6,0.125)(299.9,0.138)(300.3,0.145)(300.6,0.132)(300.9,0.153)(301.3,0.126)(301.6,0.141)(301.9,0.150)
(302.3,0.134)(302.6,0.156)(302.9,0.138)(303.3,0.128)(303.6,0.147)(303.9,0.136)(304.3,0.154)(304.6,0.133)(304.9,0.144)(305.3,0.131)
(305.6,0.160)(305.9,0.140)(306.3,0.148)(306.6,0.135)(306.9,0.152)(307.3,0.139)(307.6,0.131)(307.9,0.146)(308.3,0.142)(308.6,0.162)
(308.9,0.137)(309.3,0.149)(309.6,0.134)(309.9,0.145)(310.3,0.140)(310.6,0.155)(310.9,0.136)(311.3,0.147)(311.6,0.131)(311.9,0.144)
(312.3,0.140)(312.6,0.151)(312.9,0.137)(313.3,0.143)(313.6,0.134)(314.0,0.129)(314.3,0.148)(314.6,0.139)(314.9,0.152)(315.3,0.137)
(315.6,0.146)(315.9,0.141)(316.3,0.155)(316.6,0.136)(316.9,0.147)(317.3,0.139)(317.6,0.150)(317.9,0.135)(318.3,0.143)(318.6,0.137)
(318.9,0.152)(319.3,0.140)(319.6,0.146)(319.9,0.134)(320.3,0.149)(320.6,0.138)(320.9,0.144)(321.3,0.136)(321.6,0.150)(321.9,0.139)
(322.3,0.145)(322.6,0.134)(322.9,0.148)(323.3,0.140)(323.6,0.146)(323.9,0.137)(324.3,0.143)(324.6,0.133)(324.9,0.147)(325.3,0.138)
(325.6,0.144)(325.9,0.132)(326.3,0.141)(326.6,0.136)(326.9,0.146)(327.3,0.130)(327.8,0.125)(328.1,0.148)(328.4,0.129)(328.7,0.153)
(329.0,0.124)(329.3,0.145)(329.7,0.133)(330.0,0.150)(330.3,0.116)(330.6,0.139)(331.0,0.164)(331.3,0.128)(331.6,0.146)(331.9,0.135)
(332.3,0.152)(332.6,0.131)(332.9,0.156)(333.3,0.138)(333.6,0.147)(333.9,0.142)(334.3,0.153)(334.6,0.126)(334.9,0.150)(335.3,0.145)
(335.6,0.160)(335.9,0.148)(336.3,0.165)(336.6,0.151)(336.9,0.170)(337.3,0.155)(337.6,0.174)(337.9,0.150)(338.3,0.168)(338.6,0.158)
(338.9,0.172)(339.3,0.160)(339.6,0.179)(339.9,0.157)(340.3,0.168)(340.6,0.153)(340.9,0.175)(341.3,0.156)(341.6,0.149)(341.9,0.162)
(342.3,0.152)(342.6,0.164)(342.9,0.150)(343.3,0.158)(343.6,0.148)(343.9,0.161)(344.3,0.151)(344.6,0.157)(344.9,0.149)(345.3,0.163)
(345.6,0.152)(345.9,0.158)(346.3,0.150)(346.6,0.155)(346.9,0.146)(347.3,0.153)(347.6,0.141)(347.9,0.150)(348.3,0.143)(348.6,0.149)
(348.9,0.141)(349.3,0.152)(349.6,0.144)(349.9,0.156)(350.3,0.145)(350.6,0.151)(350.9,0.143)(351.3,0.158)(351.6,0.146)(351.9,0.152)
(352.3,0.142)(352.6,0.155)(352.9,0.147)(353.3,0.151)(353.6,0.144)(353.9,0.156)(354.3,0.146)(354.6,0.150)(354.9,0.141)(355.3,0.155)
(355.6,0.144)(355.9,0.151)(356.3,0.140)(356.6,0.148)(356.9,0.142)(357.3,0.149)(357.6,0.138)(357.9,0.146)(358.3,0.141)(358.6,0.152)
(358.9,0.139)(359.3,0.147)(359.6,0.137)(359.9,0.149)(360.3,0.158)(360.6,0.159)(360.9,0.140)(361.3,0.148)(361.6,0.135)(361.9,0.146)
(362.3,0.139)(362.6,0.134)(362.9,0.150)(363.3,0.141)(363.6,0.137)(363.9,0.149)(364.3,0.138)(364.6,0.144)(364.9,0.135)(365.3,0.141)
(365.6,0.139)
};
\addlegendentry{Spostamento 3D}
\end{axis}
\node[anchor=base, font=\titfont] at (666pt,765pt) {Spostamenti GPS7 3D - Altezza di neve al suolo};
\node[anchor=base, font=\labfont] at (671pt,30pt) {Data};
\node[anchor=base, rotate=90, font=\labfont] at (53pt,399pt) {Precipitazioni orarie [mm]};
\fill[black] (2pt,0pt) rectangle (7pt,821pt);
\fill[black] (2pt,816pt) rectangle (1331pt,821pt);
\fill[black] (1325pt,0pt) rectangle (1331pt,821pt);
\end{tikzpicture}
\end{document}
